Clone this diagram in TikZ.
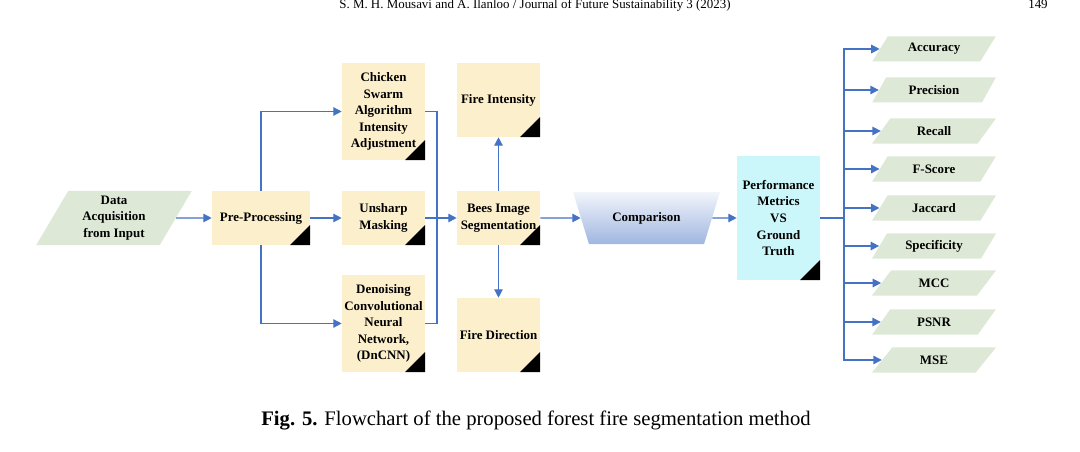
\documentclass[tikz,border=0pt]{standalone}
\usepackage{fontspec}
\setmainfont{Liberation Serif}
\usetikzlibrary{arrows.meta,shapes.geometric}
\definecolor{boxyellow}{RGB}{252,239,204}
\definecolor{datagreen}{RGB}{221,233,214}
\definecolor{metcyan}{RGB}{204,247,250}
\definecolor{flowblue}{RGB}{68,114,196}
\definecolor{comptop}{RGB}{242,245,251}
\definecolor{compbottom}{RGB}{160,182,224}
\begin{document}
\begin{tikzpicture}[x=0.025cm,y=-0.025cm,
  every node/.style={font=\fontsize{9.2}{11.8}\selectfont\bfseries,align=center,inner sep=1pt},
  corner/.style={path picture={\fill[black] (path picture bounding box.south east) -- ++(-0.5cm,0) -- ++(0.5cm,0.5cm) -- cycle;}},
  procbox/.style={rectangle,fill=boxyellow,minimum width=2.075cm,minimum height=1.35cm,corner},
  slanted/.style={trapezium,trapezium stretches=true,fill=datagreen},
  metric/.style={slanted,trapezium left angle=57,trapezium right angle=123,minimum width=3.1cm,minimum height=0.625cm},
  link/.style={draw=flowblue,line width=1pt},
  flow/.style={link,-{Triangle[length=6pt,width=6pt]}}]
\useasboundingbox (0,0) rectangle (1080,452);
\node[font=\fontsize{9.2}{10}\selectfont,anchor=base] (header) at (535,9) {S. M. H. Mousavi and A. Ilanloo / Journal of Future Sustainability 3 (2023)};
\node[font=\fontsize{9.2}{10}\selectfont,anchor=base] (page) at (1038,9) {149};
\node[slanted,trapezium left angle=64,trapezium right angle=116,minimum width=3.9cm,minimum height=1.35cm] (data) at (114,218) {Data\\Acquisition\\from Input};
\node[procbox,minimum width=2.45cm] (pre) at (261,218) {Pre-Processing};
\node[procbox,minimum height=2.425cm] (chicken) at (383.5,111.5) {Chicken\\Swarm\\Algorithm\\Intensity\\Adjustment};
\node[procbox] (unsharp) at (383.5,218) {Unsharp\\Masking};
\node[procbox,minimum height=2.425cm] (dncnn) at (383.5,323.5) {Denoising\\Convolutional\\Neural\\Network,\\(DnCNN)};
\node[procbox,minimum height=1.85cm] (intensity) at (498.5,100) {Fire Intensity};
\node[procbox] (bees) at (498.5,218) {Bees Image\\Segmentation};
\node[procbox,minimum height=1.85cm] (direction) at (498.5,335) {Fire Direction};
\node[trapezium,shape border rotate=180,trapezium left angle=56,trapezium right angle=56,trapezium stretches=true,top color=comptop,bottom color=compbottom,minimum width=3.675cm,minimum height=1.3cm] (comparison) at (646.5,218) {Comparison};
\node[procbox,fill=metcyan,minimum height=3.1cm] (perf) at (778.5,218) {Performance\\Metrics\\VS\\Ground\\Truth};
\foreach \name/\label/\y in {accuracy/Accuracy/49,precision/Precision/90,recall/Recall/131,fscore/F-Score/169,jaccard/Jaccard/208,specificity/Specificity/246,mcc/MCC/283,psnr/PSNR/322,mse/MSE/360}
  \node[metric] (\name) at (934,\y) {\label};
\node[font=\fontsize{14.7}{17}\selectfont,anchor=base] (caption) at (536,426) {\textbf{Fig. 5.} Flowchart of the proposed forest fire segmentation method};
\coordinate (merge) at (437,218);
\coordinate (trunk) at (844,218);
\draw[flow] (data.east) -- (pre.west);
\draw[flow] (pre.north) |- (chicken.west);
\draw[flow] (pre.south) |- (dncnn.west);
\draw[flow] (pre.east) -- (unsharp.west);
\draw[link] (chicken.east) -| (merge);
\draw[link] (dncnn.east) -| (merge);
\draw[flow] (unsharp.east) -- (bees.west);
\draw[flow] (bees.north) -- (intensity.south);
\draw[flow] (bees.south) -- (direction.north);
\draw[flow] (bees.east) -- (comparison.west);
\draw[flow] (comparison.east) -- (perf.west);
\foreach \name in {accuracy,precision,recall,fscore,jaccard,specificity,mcc,psnr,mse}
  \draw[flow] (perf.east) -- (trunk) |- (\name.west);
\end{tikzpicture}
\end{document}
